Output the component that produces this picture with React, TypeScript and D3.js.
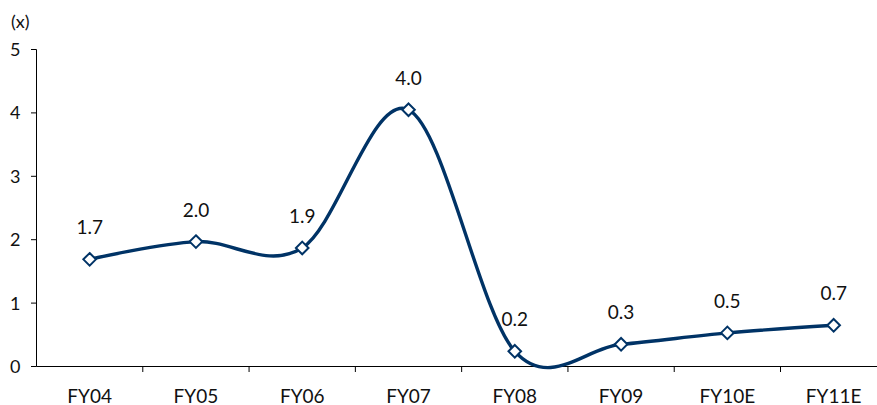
import React from "react";
import * as d3 from "d3";

const categories = ["FY04", "FY05", "FY06", "FY07", "FY08", "FY09", "FY10E", "FY11E"];
const values = [1.69, 1.97, 1.87, 4.05, 0.24, 0.35, 0.53, 0.65];
const valueLabels = ["1.7", "2.0", "1.9", "4.0", "0.2", "0.3", "0.5", "0.7"];
const yTicks = [0, 1, 2, 3, 4, 5];

const W = 877;
const H = 405;
const FONT = "Lato, 'Open Sans', sans-serif";
const NAVY = "#003366";
const TXT = "#111";

export default function App() {
  const x = d3.scaleBand<string>().domain(categories).range([36.5, 886.8]).padding(0);
  const y = d3.scaleLinear().domain([0, 5]).range([366.5, 49.5]);
  const cx = (c: string) => (x(c) as number) + x.bandwidth() / 2;
  const pts: [number, number][] = categories.map((c, i) => [cx(c), y(values[i])]);
  const line = d3.line().curve(d3.curveCatmullRom.alpha(0))(pts) || "";
  const boundaries = categories.slice(1).map((c) => x(c) as number);
  const ds = 6.3;

  return (
    <svg width={W} height={H} style={{ position: "absolute", left: 0, top: 0 }}>
      <rect width={W} height={H} fill="#fff" />
      <text x={11} y={28} fontFamily={FONT} fontSize={18} fill={TXT}>(x)</text>
      {/* y axis */}
      <line x1={36.5} x2={36.5} y1={y(5)} y2={y(0)} stroke="#000" strokeWidth={1} />
      {yTicks.map((t) => (
        <g key={t}>
          <line x1={31} x2={36.5} y1={y(t)} y2={y(t)} stroke="#000" strokeWidth={1} />
          <text x={20.5} y={y(t) + 6.5} textAnchor="end" fontFamily={FONT} fontSize={18} fill={TXT}>
            {t}
          </text>
        </g>
      ))}
      {/* x axis */}
      <line x1={36.5} x2={W} y1={y(0)} y2={y(0)} stroke="#000" strokeWidth={1} />
      {boundaries.map((b, i) => (
        <line key={i} x1={b} x2={b} y1={y(0)} y2={y(0) + 5.5} stroke="#000" strokeWidth={1} />
      ))}
      {categories.map((c) => (
        <text key={c} x={cx(c)} y={402.5} textAnchor="middle" fontFamily={FONT} fontSize={19} fill={TXT}>
          {c}
        </text>
      ))}
      <path d={line} fill="none" stroke={NAVY} strokeWidth={3.4} strokeLinejoin="round" />
      {pts.map(([px, py], i) => (
        <g key={i}>
          <path
            d={`M${px},${py - ds}L${px + ds},${py}L${px},${py + ds}L${px - ds},${py}Z`}
            fill="#fff"
            stroke={NAVY}
            strokeWidth={2}
          />
          <text x={px} y={py - 25} textAnchor="middle" fontFamily={FONT} fontSize={19} fill={TXT}>
            {valueLabels[i]}
          </text>
        </g>
      ))}
    </svg>
  );
}
